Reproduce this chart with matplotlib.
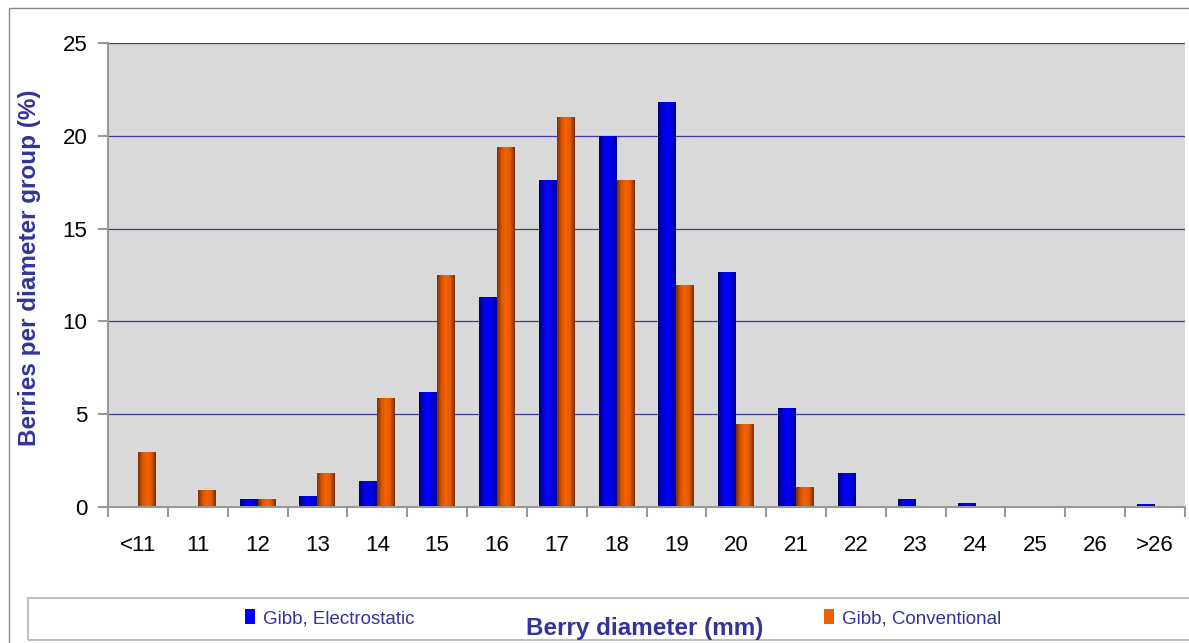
import numpy as np
import matplotlib.pyplot as plt
from matplotlib.colors import LinearSegmentedColormap
from matplotlib.patches import Rectangle

plt.rcParams['font.family'] = ['Liberation Sans', 'DejaVu Sans']

categories = ["<11", "11", "12", "13", "14", "15", "16", "17", "18",
              "19", "20", "21", "22", "23", "24", "25", "26", ">26"]
electrostatic = [0, 0, 0.45, 0.6, 1.4, 6.2, 11.3, 17.6, 20.0,
                 21.8, 12.65, 5.35, 1.85, 0.45, 0.2, 0.05, 0, 0.15]
conventional = [2.95, 0.9, 0.45, 1.85, 5.85, 12.5, 19.4, 21.0, 17.6,
                11.95, 4.45, 1.1, 0.05, 0.05, 0, 0.05, 0, 0.05]

label_color = "#333399"
blue_cmap = LinearSegmentedColormap.from_list(
    "b", ["#00006e", "#0000d8", "#0000ff", "#0000e0", "#000090"])
orange_cmap = LinearSegmentedColormap.from_list(
    "o", ["#7a3000", "#d85500", "#f56200", "#e05800", "#7a2e00"])

fig = plt.figure(figsize=(11.89, 6.43), dpi=100)
ax = fig.add_axes([108 / 1189, 136 / 643, 1077 / 1189, 464 / 643])
ax.set_facecolor("#d9d9d9")

x = np.arange(len(categories))
w = 0.3
bars_e = ax.bar(x - w / 2, electrostatic, w, color="#0000ff", zorder=3,
                label="Gibb, Electrostatic")
bars_c = ax.bar(x + w / 2, conventional, w, color="#f06000", zorder=3,
                label="Gibb, Conventional")

# shaded look on each bar
grad = np.linspace(0, 1, 64).reshape(1, -1)
for bars, cmap in ((bars_e, blue_cmap), (bars_c, orange_cmap)):
    for p in bars.patches:
        h = p.get_height()
        if h <= 0:
            continue
        im = ax.imshow(grad, extent=[p.get_x(), p.get_x() + p.get_width(), 0, h],
                       aspect="auto", cmap=cmap, zorder=4, interpolation="bilinear")
        im.set_clip_path(p)

ax.set_xlim(-0.5, len(categories) - 0.5)
ax.set_ylim(0, 25)
ax.set_yticks(range(0, 26, 5))
ax.set_xticks(np.arange(len(categories) + 1) - 0.5)
ax.set_xticklabels([])
ax.set_xticks(x, minor=True)
ax.set_xticklabels(categories, minor=True)
ax.tick_params(axis="x", which="minor", length=0, pad=20, labelsize=16)
ax.tick_params(axis="x", which="major", length=7, width=1.5, color="#999999")
ax.tick_params(axis="y", length=7, width=1.5, color="#999999", labelsize=16, pad=8)

ax.grid(axis="y", color="#3c3c96", lw=0.9, zorder=1)
for s in ("top", "right"):
    ax.spines[s].set_visible(False)
for s in ("left", "bottom"):
    ax.spines[s].set_color("#999999")
    ax.spines[s].set_linewidth(1.5)
    ax.spines[s].set_zorder(5)

fig.text(30 / 1189, 1 - 268 / 643, "Berries per diameter group (%)", rotation=90,
         ha="center", va="center", fontsize=17.5, fontweight="bold", color=label_color)

# outer frame and legend box
fig.patches.append(Rectangle((9 / 1189, -0.1), 1.2, 1.1 - 8 / 643, fill=False,
                             edgecolor="#888888", lw=1, transform=fig.transFigure))
fig.patches.append(Rectangle((28 / 1189, 3 / 643), 1.0, 42 / 643, fill=False,
                             edgecolor="#c0c0c0", lw=1.5, transform=fig.transFigure))

for bars, xpos in ((bars_e, 228 / 1189), (bars_c, 807 / 1189)):
    fig.legend(handles=[bars], loc="center left", bbox_to_anchor=(xpos, 1 - 618 / 643),
               frameon=False, fontsize=13.5, handlelength=0.55, handleheight=0.9,
               handletextpad=0.4, labelcolor=label_color)

fig.text(645 / 1189, 1 - 628 / 643, "Berry diameter (mm)", ha="center", va="center",
         fontsize=17.5, fontweight="bold", color=label_color)

fig.savefig("out.png", dpi=100)
